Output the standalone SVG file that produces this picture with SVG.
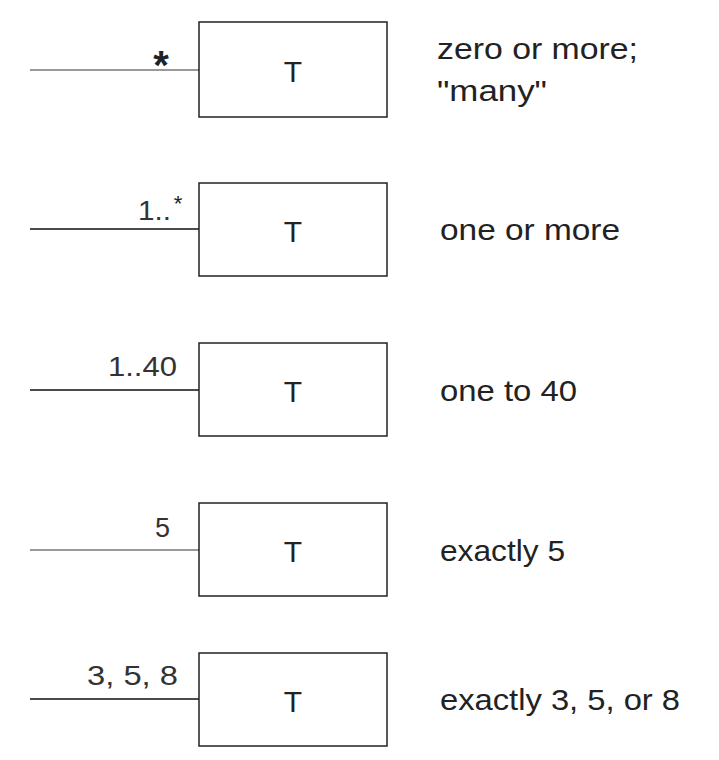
<svg xmlns="http://www.w3.org/2000/svg" width="719" height="760" viewBox="0 0 719 760">
<style>
.box{fill:#fff;stroke:#222;stroke-width:1.5}
.ln{stroke:#111;stroke-width:1.5}
.lg{stroke:#777;stroke-width:1.5}
.t{font-family:"Liberation Sans",Arial,sans-serif;font-size:30px;fill:#222;text-anchor:middle}
.lbl{font-family:"Liberation Sans",Arial,sans-serif;font-size:27px;fill:#333;text-anchor:end}
.desc{font-family:"Liberation Sans",Arial,sans-serif;font-size:30px;fill:#222}
</style>
<rect width="719" height="760" fill="#fff"/>
<g id="connectors">
<line class="lg" x1="30" y1="70" x2="199" y2="70"/>
<line class="ln" x1="30" y1="229" x2="199" y2="229"/>
<line class="ln" x1="30" y1="390" x2="199" y2="390"/>
<line class="lg" x1="30" y1="550" x2="199" y2="550"/>
<line class="ln" x1="30" y1="699" x2="199" y2="699"/>
</g>
<g id="node1">
<rect class="box" x="199" y="22" width="188" height="95"/>
<text class="t" x="293" y="82">T</text>
<text x="161" y="79" font-family="Liberation Sans,Arial,sans-serif" font-size="40" font-weight="bold" fill="#222" text-anchor="middle">*</text>
<text class="desc" x="437" y="59" textLength="201" lengthAdjust="spacingAndGlyphs">zero or more;</text>
<text class="desc" x="437" y="101" textLength="110" lengthAdjust="spacingAndGlyphs">"many"</text>
</g>
<g id="node2">
<rect class="box" x="199" y="183" width="188" height="93"/>
<text class="t" x="293" y="242">T</text>
<text class="lbl" x="171" y="220" textLength="33" lengthAdjust="spacingAndGlyphs">1..</text>
<text x="178" y="211" font-family="Liberation Sans,Arial,sans-serif" font-size="22" fill="#222" text-anchor="middle">*</text>
<text class="desc" x="440" y="240" textLength="180" lengthAdjust="spacingAndGlyphs">one or more</text>
</g>
<g id="node3">
<rect class="box" x="199" y="343" width="188" height="93"/>
<text class="t" x="293" y="402">T</text>
<text class="lbl" x="177" y="376" textLength="69" lengthAdjust="spacingAndGlyphs">1..40</text>
<text class="desc" x="440" y="401" textLength="137" lengthAdjust="spacingAndGlyphs">one to 40</text>
</g>
<g id="node4">
<rect class="box" x="199" y="503" width="188" height="93"/>
<text class="t" x="293" y="562">T</text>
<text class="lbl" x="170" y="537">5</text>
<text class="desc" x="440" y="561" textLength="125" lengthAdjust="spacingAndGlyphs">exactly 5</text>
</g>
<g id="node5">
<rect class="box" x="199" y="653" width="188" height="93"/>
<text class="t" x="293" y="712">T</text>
<text class="lbl" x="178" y="685" textLength="91" lengthAdjust="spacingAndGlyphs">3, 5, 8</text>
<text class="desc" x="440" y="710" textLength="240" lengthAdjust="spacingAndGlyphs">exactly 3, 5, or 8</text>
</g>
</svg>
